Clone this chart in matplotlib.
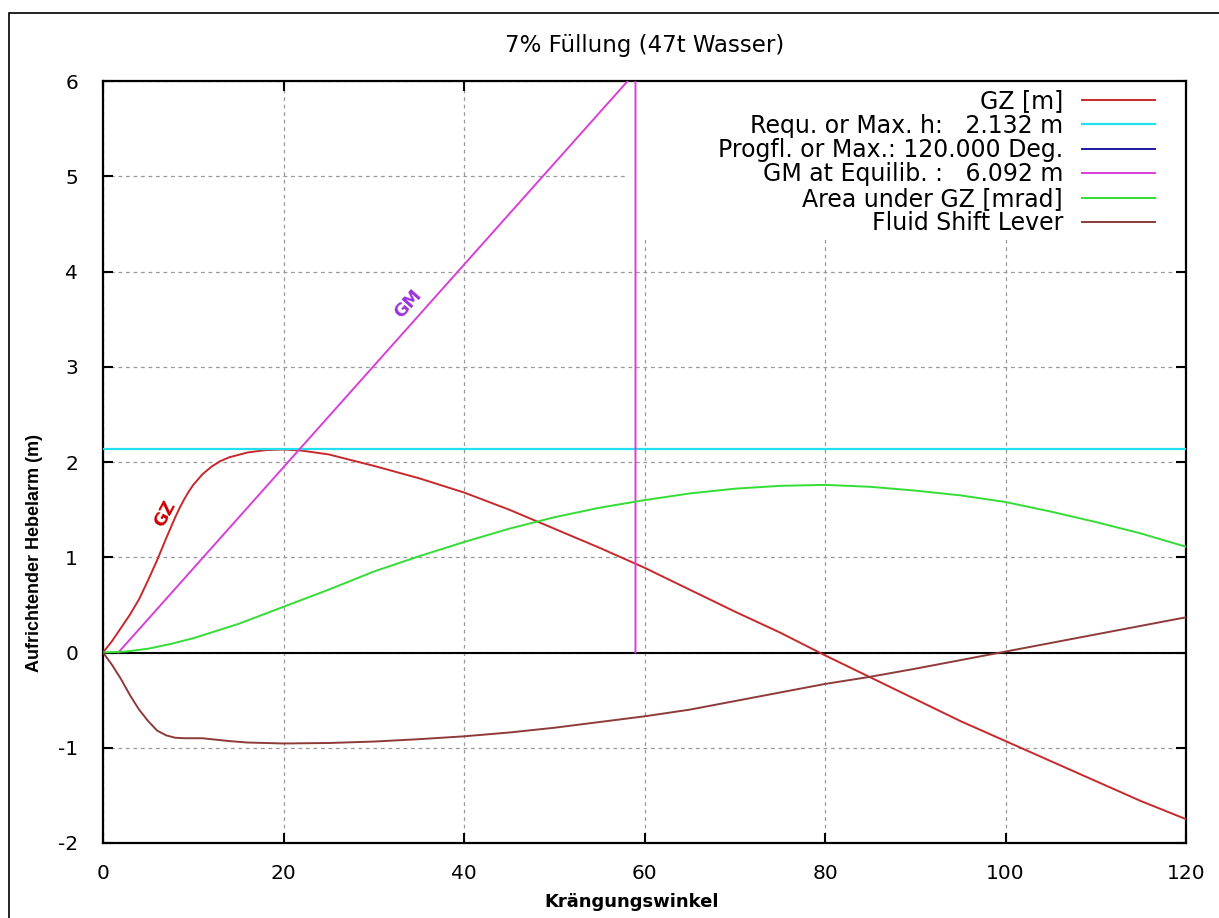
import numpy as np
import matplotlib
matplotlib.use('Agg')
import matplotlib.pyplot as plt
from matplotlib.patches import Rectangle

plt.rcParams['axes.unicode_minus'] = False

# heel angles (deg) and values
gz_deg = [0, 1, 2, 3, 4, 5, 6, 7, 8, 8.5, 9, 9.5, 10, 11, 12, 13, 14, 16, 18, 20, 22, 25,
          30, 35, 40, 45, 50, 55, 60, 65, 70, 75, 80, 85, 90, 95, 100, 105, 110, 115, 120]
gz_val = [0, 0.12, 0.26, 0.40, 0.56, 0.76, 0.97, 1.20, 1.42, 1.52, 1.61, 1.69, 1.76, 1.87, 1.95, 2.01, 2.05, 2.10, 2.125, 2.132, 2.12, 2.08,
          1.96, 1.83, 1.68, 1.50, 1.30, 1.10, 0.89, 0.66, 0.43, 0.21, -0.03, -0.26, -0.49, -0.72, -0.93, -1.14, -1.35, -1.56, -1.75]

area_deg = [0, 2.5, 5, 7.5, 10, 15, 20, 25, 30, 35, 40, 45, 50, 55, 60, 65, 70, 75, 80,
            85, 90, 95, 100, 105, 110, 115, 120]
area_val = [0, 0.01, 0.04, 0.09, 0.15, 0.30, 0.48, 0.66, 0.85, 1.01, 1.16, 1.30, 1.42, 1.52, 1.60, 1.67, 1.72, 1.75, 1.76,
            1.74, 1.70, 1.65, 1.58, 1.48, 1.37, 1.25, 1.11]

fsl_deg = [0, 1, 2, 3, 4, 5, 6, 7, 8, 9, 10, 11, 12, 14, 16, 20, 25, 30, 35, 40, 45, 50,
           55, 60, 65, 70, 75, 80, 85, 90, 95, 100, 105, 110, 115, 120]
fsl_val = [0, -0.13, -0.28, -0.45, -0.60, -0.72, -0.82, -0.87, -0.895, -0.90, -0.90, -0.90, -0.91, -0.93, -0.945, -0.955, -0.95, -0.935, -0.91, -0.88, -0.84, -0.79,
           -0.73, -0.67, -0.60, -0.51, -0.42, -0.33, -0.255, -0.17, -0.08, 0.01, 0.10, 0.19, 0.28, 0.37]

req_h = 2.132
prog_deg = 120.0
gm_val = 6.092
gm_start = 1.7
gm_deg = gm_start + np.degrees(1.0)  # GM plotted at 1 rad

fig = plt.figure(figsize=(12.19, 9.18), dpi=100)
ax = fig.add_axes([0.0845, 0.0817, 0.8885, 0.830])

ax.plot(gz_deg, gz_val, color='#c8282c', lw=1.4, label='GZ [m]', zorder=3)
ax.plot([0, 120], [req_h, req_h], color='#22e0ee', lw=1.6, label='Requ. or Max. h:   2.132 m', zorder=3)
ax.plot([prog_deg, prog_deg], [0, 0], color='#1a1aa0', lw=1.4, label='Progfl. or Max.: 120.000 Deg.', zorder=3)
ax.plot([gm_start, gm_deg, gm_deg], [0, gm_val, 0], color='#d83ed8', lw=1.4, label='GM at Equilib. :   6.092 m', zorder=3)
ax.plot(area_deg, area_val, color='#33dd33', lw=1.4, label='Area under GZ [mrad]', zorder=3)
ax.plot(fsl_deg, fsl_val, color='#8e3a3a', lw=1.4, label='Fluid Shift Lever', zorder=3)

ax.axhline(0, color='black', lw=1.5, zorder=2)

ax.set_xlim(0, 120)
ax.set_ylim(-2, 6)
ax.set_xticks(range(0, 121, 20))
ax.set_yticks(range(-2, 7))
ax.grid(True, color='#999999', ls=(0, (3, 3)), lw=0.9)
ax.tick_params(direction='in', length=7, width=1.5, top=True, right=True,
               labelsize=14.5, colors='black')
ax.tick_params(axis='y', pad=18)
ax.tick_params(axis='x', pad=15)
for sp in ax.spines.values():
    sp.set_linewidth(1.6)

# white key area masks the grid (as in gnuplot)
ax.add_patch(Rectangle((0.482, 0.791), 0.518, 0.209, transform=ax.transAxes,
                       facecolor='white', edgecolor='none', zorder=1.8))

ax.set_title('7% Füllung (47t Wasser)', fontsize=16.5, pad=21)
ax.set_xlabel('Krängungswinkel', fontsize=13, fontweight='bold',
              family='Liberation Sans Narrow')
ax.xaxis.set_label_coords(0.488, -0.065)
ax.set_ylabel('Aufrichtender Hebelarm (m)', fontsize=13, fontweight='bold',
              family='Liberation Sans')
ax.yaxis.set_label_coords(-0.0555, 0.38)

ax.text(6.9, 1.46, 'GZ', color='#cc0000', fontsize=12.5, fontweight='bold',
        rotation=62, ha='center', va='center')
ax.text(33.8, 3.66, 'GM', color='#9a33dd', fontsize=12.5, fontweight='bold',
        rotation=48, ha='center', va='center')

leg = ax.legend(loc='upper right', bbox_to_anchor=(1 - 31 / 1083, 1 - 8 / 762),
                markerfirst=False, fontsize=17, frameon=False, handlelength=3.1,
                labelspacing=0.02, borderaxespad=0, borderpad=0, handletextpad=0.8)

# outer frame of the original screenshot
fig.add_artist(Rectangle((9 / 1219, -0.1), 1.2, (918 - 13) / 918 + 0.1,
                         transform=fig.transFigure, fill=False, ec='black', lw=1.2))

fig.savefig('out.png', dpi=100)
